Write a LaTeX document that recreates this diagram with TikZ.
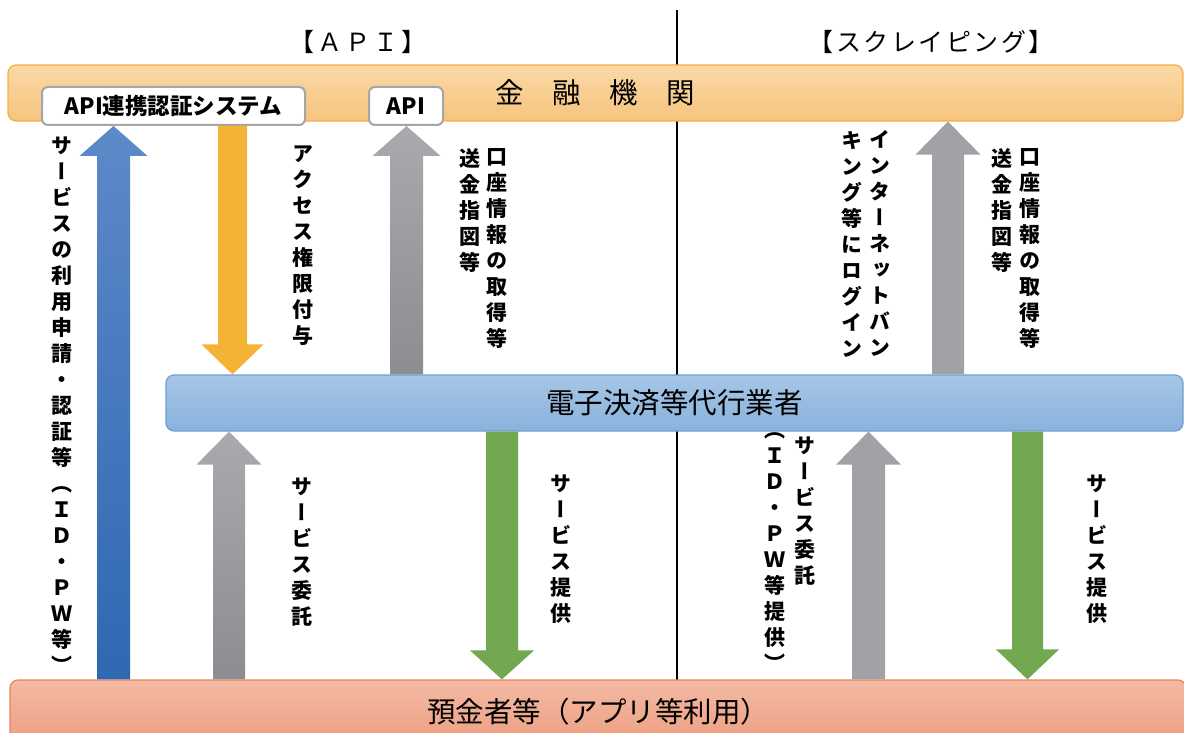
\documentclass[tikz,border=0pt]{standalone}
\usepackage{fontspec}
\setmainfont{Noto Sans CJK JP}
\newfontfamily\vjp[RawFeature=+vert]{Noto Sans CJK JP}
\usetikzlibrary{calc}
\definecolor{finTop}{HTML}{FAD9A6}
\definecolor{finBot}{HTML}{F6C47E}
\definecolor{finLine}{HTML}{F2AE48}
\definecolor{epTop}{HTML}{A6C6E6}
\definecolor{epBot}{HTML}{8AB2DC}
\definecolor{epLine}{HTML}{6E9FD2}
\definecolor{depTop}{HTML}{F3BAA4}
\definecolor{depBot}{HTML}{EE9E80}
\definecolor{depLine}{HTML}{E9845E}
\definecolor{blueTop}{HTML}{5E89C9}
\definecolor{blueBot}{HTML}{2F68B2}
\definecolor{orangeA}{HTML}{F5B335}
\definecolor{grayTop}{HTML}{A9AAAD}
\definecolor{grayBot}{HTML}{8C8D91}
\definecolor{grayS}{HTML}{A1A2A5}
\definecolor{greenA}{HTML}{71A850}
\definecolor{boxLine}{HTML}{A5A5A5}
\makeatletter
\newcommand\vtxt[1]{\vbox{\baselineskip=26pt\lineskip=0pt\lineskiplimit=-30pt\@tfor\vtc:=#1\do{\hbox to 22pt{\hss\vtc\hss}}}}
\newcommand\spacedtxt[2]{\@tfor\stc:=#2\do{\hbox to #1{\hss\stc\hss}}}
\makeatother
% #1 style, #2 bottom point, #3 tip point, #4 shaft half width, #5 head half width, #6 head length
\newcommand\blkup[6]{\path[#1] let \p1=(#2), \p2=(#3) in
  (\x1-#4pt,\y1) -- (\x1-#4pt,\y2-#6pt) -- (\x1-#5pt,\y2-#6pt) -- (\x1,\y2)
  -- (\x1+#5pt,\y2-#6pt) -- (\x1+#4pt,\y2-#6pt) -- (\x1+#4pt,\y1) -- cycle;}
% #1 style, #2 start (top) point, #3 tip (bottom) point
\newcommand\blkdown[6]{\path[#1] let \p1=(#2), \p2=(#3) in
  (\x1-#4pt,\y1) -- (\x1-#4pt,\y2+#6pt) -- (\x1-#5pt,\y2+#6pt) -- (\x1,\y2)
  -- (\x1+#5pt,\y2+#6pt) -- (\x1+#4pt,\y2+#6pt) -- (\x1+#4pt,\y1) -- cycle;}
\begin{document}
\begin{tikzpicture}[x=1pt,y=-1pt,
  bar/.style={rectangle, rounded corners=8pt, line width=1.2pt, inner sep=0pt,
    font=\fontsize{28.5}{30}\selectfont},
  sysbox/.style={rectangle, rounded corners=6pt, draw=boxLine, line width=2pt, fill=white,
    inner sep=0pt, font=\bfseries\fontsize{22.5}{24}\selectfont},
  title/.style={font=\fontsize{25}{27}\selectfont, inner sep=0pt},
  vt/.style={anchor=north, inner sep=0pt, font=\vjp\bfseries\fontsize{21}{26}\selectfont}]
\useasboundingbox (0,0) rectangle (1184,733);
% titles
\node[title] (tapi) at (358,42) {\spacedtxt{28pt}{【ＡＰＩ】}};
\node[title] (tscr) at (931,42) {\spacedtxt{27.5pt}{【スクレイピング】}};
% divider
\coordinate (ltop) at (677,10);
\coordinate (lbot) at (677,680);
\draw[line width=1.3pt] (ltop) -- (lbot);
% bars
\node[bar, draw=finLine, top color=finTop, bottom color=finBot,
  minimum width=1175pt, minimum height=56pt] (fin) at (595.5,93) {金　融　機　関};
\node[bar, draw=epLine, top color=epTop, bottom color=epBot,
  minimum width=1017pt, minimum height=56pt] (ep) at (674.5,403) {電子決済等代行業者};
\node[bar, draw=depLine, top color=depTop, bottom color=depBot,
  minimum width=1176pt, minimum height=64pt] (dep) at (598,712) {預金者等（アプリ等利用）};
% boxes on the top bar
\node[sysbox, minimum width=263pt, minimum height=38pt] (sys) at (173.5,106) {API連携認証システム};
\node[sysbox, minimum width=74pt, minimum height=38pt] (api) at (406,106) {API};
% arrow x positions
\coordinate (xb) at (113.5,0);
\coordinate (xo) at (232.5,0);
\coordinate (xg1) at (406.5,0);
\coordinate (xg2) at (948,0);
\coordinate (xg3) at (229,0);
\coordinate (xgr1) at (502,0);
\coordinate (xg4) at (868.5,0);
\coordinate (xgr2) at (1027.5,0);
% arrows
\blkup{top color=blueTop, bottom color=blueBot}{xb |- dep.north}{xb |- sys.south}{16.5}{34}{30}
\blkdown{fill=orangeA}{xo |- sys.south}{xo |- ep.north}{14.5}{31}{30}
\blkup{top color=grayTop, bottom color=grayBot}{xg1 |- ep.north}{xg1 |- api.south}{16.5}{34}{30}
\blkup{fill=grayS}{xg2 |- ep.north}{xg2 |- fin.south}{16}{32.5}{33}
\blkup{top color=grayTop, bottom color=grayBot}{xg3 |- dep.north}{xg3 |- ep.south}{16}{32.5}{33}
\blkdown{fill=greenA}{xgr1 |- ep.south}{xgr1 |- dep.north}{16}{32}{29}
\blkup{fill=grayS}{xg4 |- dep.north}{xg4 |- ep.south}{16.5}{32.5}{33}
\blkdown{fill=greenA}{xgr2 |- ep.south}{xgr2 |- dep.north}{15.5}{31.5}{30}
% vertical labels
\node[vt] (l1) at (62,137) {\vtxt{サービスの利用申請・認証等（ＩＤ・ＰＷ等）}};
\node[vt] (l2) at (303,145) {\vtxt{アクセス権限付与}};
\node[vt] (l3) at (497,148) {\vtxt{口座情報の取得等}};
\node[vt] (l4) at (470,148) {\vtxt{送金指図等}};
\node[vt] (l5) at (880,130) {\vtxt{インターネットバン}};
\node[vt] (l6) at (852,131) {\vtxt{キング等にログイン}};
\node[vt] (l7) at (1030,148) {\vtxt{口座情報の取得等}};
\node[vt] (l8) at (1002,148) {\vtxt{送金指図等}};
\node[vt] (l9) at (302,478) {\vtxt{サービス委託}};
\node[vt] (l10) at (561,475) {\vtxt{サービス提供}};
\node[vt] (l11) at (805,437) {\vtxt{サービス委託}};
\node[vt] (l12) at (775,432) {\vtxt{（ＩＤ・ＰＷ等提供）}};
\node[vt] (l13) at (1097,475) {\vtxt{サービス提供}};
\end{tikzpicture}
\end{document}
